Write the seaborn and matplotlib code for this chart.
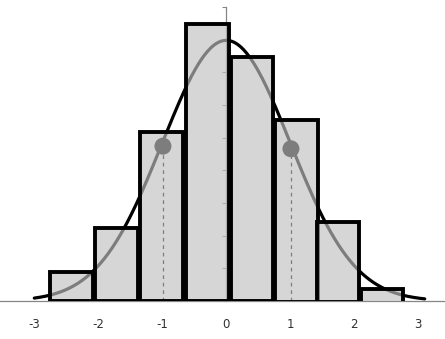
import numpy as np
import pandas as pd
import matplotlib
matplotlib.use("Agg")
import matplotlib.pyplot as plt
import seaborn as sns
from matplotlib.colors import to_rgba

# ---- data ----
bin_centers = [-2.42, -1.715, -1.01, -0.295, 0.40, 1.095, 1.745, 2.43]
bin_heights = [0.0449, 0.1122, 0.2582, 0.4235, 0.374, 0.278, 0.1229, 0.0234]
bin_bottoms = [0.0, 0.0, 0.0, 0.0, 0.0, -0.0015, -0.0015, -0.0055]
sd_points_x = [-0.99, 1.01]
sd_points_y = [0.237, 0.233]
x_ticks = [-3, -2, -1, 0, 1, 2, 3]
x_tick_labels = ["-3", "-2", "-1", "0", "1", "2", "3"]
y_ticks = [0.0, 0.05, 0.10, 0.15, 0.20, 0.25, 0.30, 0.35, 0.40, 0.45]

# normal curve (standard normal density)
curve_x = np.linspace(-3.0, 3.1, 400)
curve_y = np.exp(-curve_x ** 2 / 2) / np.sqrt(2 * np.pi)
curve_df = pd.DataFrame({"x": curve_x, "y": curve_y})
pts_df = pd.DataFrame({"x": sd_points_x, "y": sd_points_y})

sns.set_style("white")
plt.rcParams["font.family"] = ["DejaVu Sans"]

fig = plt.figure(figsize=(4.45, 3.39), dpi=100)
ax = fig.add_axes([0.0, 38 / 339, 1.0, 294 / 339])

axis_gray = "#868686"

# curve, markers and dashed drop lines (beneath translucent bars)
sns.lineplot(data=curve_df, x="x", y="y", ax=ax, color="black", lw=2.3,
             zorder=1, legend=False)
for xv, yv in zip(sd_points_x, sd_points_y):
    ax.plot([xv, xv], [0, yv], color="black", lw=0.9, ls=(0, (3, 3)), zorder=1)
sns.scatterplot(data=pts_df, x="x", y="y", ax=ax, color="black", s=150,
                edgecolor="none", zorder=1.2, legend=False)

# histogram bars: translucent fill, opaque black edges
ax.bar(bin_centers, bin_heights, bottom=bin_bottoms, width=0.665,
       facecolor=to_rgba("#c1c1c1", 0.65), edgecolor="black",
       linewidth=2.8, zorder=3)

# axes styling
ax.set_xlim(-226.3 / 64.0, (445 - 226.3) / 64.0)
ax.set_ylim(0, 0.45)
ax.set_xticks(x_ticks)
ax.set_xticklabels(x_tick_labels)
ax.set_yticks(y_ticks)
ax.set_yticklabels([])
ax.set_xlabel("")
ax.set_ylabel("")

for s in ["top", "right"]:
    ax.spines[s].set_visible(False)
ax.spines["left"].set_position(("data", 0))
ax.spines["left"].set_color(axis_gray)
ax.spines["left"].set_linewidth(0.9)
ax.spines["left"].set_zorder(0.5)
ax.spines["bottom"].set_color(axis_gray)
ax.spines["bottom"].set_linewidth(0.9)
ax.spines["bottom"].set_zorder(0.5)
ax.set_axisbelow(True)

ax.tick_params(axis="x", direction="out", length=3, width=0.8,
               color=axis_gray, labelsize=8.5, labelcolor="#303030", pad=9)
ax.tick_params(axis="y", direction="out", length=3, width=0.8,
               color=axis_gray, left=True)
ax.patch.set_alpha(0)
fig.patch.set_facecolor("white")

fig.savefig("out.png", dpi=100, facecolor="white")
